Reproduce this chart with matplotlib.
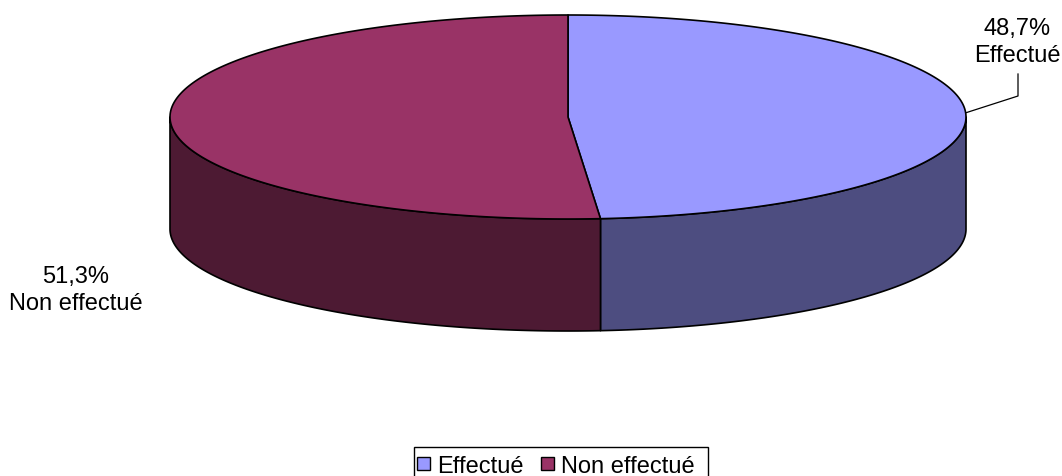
import numpy as np
import matplotlib
matplotlib.use("Agg")
import matplotlib.pyplot as plt
from matplotlib.patches import Polygon, Rectangle

# Data
categories = ["Effectué", "Non effectué"]
shares = [48.7, 51.3]
pct_labels = ["48,7%", "51,3%"]
top_colors = ["#9999FF", "#993366"]
side_colors = ["#4D4D80", "#4D1A33"]

plt.rcParams["font.family"] = ["Liberation Sans", "DejaVu Sans"]
FS = 17

W, H = 1062, 477
fig = plt.figure(figsize=(W / 100, H / 100), dpi=100)
ax = fig.add_axes([0, 0, 1, 1])
ax.set_xlim(0, W)
ax.set_ylim(H, 0)
ax.axis("off")

# Pie geometry (pixel space, y downward)
cx, cy, rx, ry, depth = 568, 118, 398, 102, 112


def ellipse_pts(a0, a1, dy=0.0, n=200):
    t = np.radians(np.linspace(a0, a1, n))
    return np.column_stack([cx + rx * np.sin(t), cy - ry * np.cos(t) + dy])


total = sum(shares)
bounds = np.concatenate([[0], np.cumsum(shares) / total * 360.0])

# Side walls (front half only: angles 90..270 clockwise from top)
for i in range(len(shares)):
    a0, a1 = max(bounds[i], 90), min(bounds[i + 1], 270)
    if a1 > a0:
        top = ellipse_pts(a0, a1)
        bot = ellipse_pts(a1, a0, dy=depth)
        ax.add_patch(Polygon(np.vstack([top, bot]), closed=True,
                             facecolor=side_colors[i], edgecolor="black",
                             lw=1.2, joinstyle="round"))

# Top faces
for i in range(len(shares)):
    arc = ellipse_pts(bounds[i], bounds[i + 1])
    poly = np.vstack([[cx, cy], arc])
    ax.add_patch(Polygon(poly, closed=True, facecolor=top_colors[i],
                         edgecolor="black", lw=1.2, joinstyle="round"))

# Data labels (percentage on first line, category below)
label_pos = [(1017, 35), (76, 283)]
for (lx, ly), pct, name in zip(label_pos, pct_labels, categories):
    ax.text(lx, ly, pct, ha="center", va="baseline", fontsize=FS)
    ax.text(lx, ly + 27, name, ha="center", va="baseline", fontsize=FS)

# Leader line for the first slice
mid = (bounds[0] + bounds[1]) / 2
p = ellipse_pts(mid, mid, n=1)[0]
ax.plot([p[0], 1018, 1018], [p[1], 97, 75], color="black", lw=0.9)

# Legend
ax.add_patch(Rectangle((414, 448), 294, 40, facecolor="white",
                       edgecolor="black", lw=1.0, clip_on=False))
legend_x = [417, 541]
for i, name in enumerate(categories):
    ax.add_patch(Rectangle((legend_x[i], 458), 13, 13,
                           facecolor=top_colors[i], edgecolor="black", lw=1.0))
    ax.text(legend_x[i] + 20, 473, name, ha="left", va="baseline", fontsize=FS)

fig.savefig("out.png", dpi=100)
